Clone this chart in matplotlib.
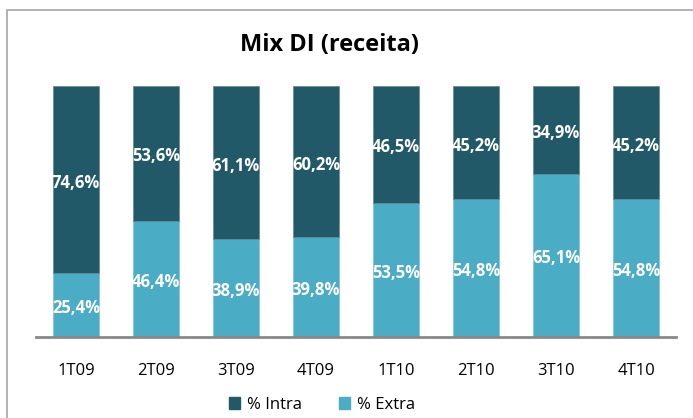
import matplotlib
matplotlib.use("Agg")
import matplotlib.pyplot as plt
from matplotlib.patches import Rectangle, Patch
from matplotlib.transforms import offset_copy

categories = ["1T09", "2T09", "3T09", "4T09", "1T10", "2T10", "3T10", "4T10"]
extra = [25.4, 46.4, 38.9, 39.8, 53.5, 54.8, 65.1, 54.8]
intra = [74.6, 53.6, 61.1, 60.2, 46.5, 45.2, 34.9, 45.2]
title = "Mix DI (receita)"

plt.rcParams['font.family'] = ['Open Sans', 'DejaVu Sans']

W, H = 693, 418
fig = plt.figure(figsize=(W / 100, H / 100), dpi=100)
fig.patch.set_facecolor("white")

# outer frame
fig.add_artist(Rectangle((7 / W, -0.1), 1.2, (H - 10) / H + 0.1, transform=fig.transFigure,
                         fill=False, edgecolor="#a6a6a6", linewidth=1.2))

ax = fig.add_axes([36 / W, (H - 337) / H, 640 / W, 251 / H])
dark = "#215968"
light = "#4BACC6"
x = list(range(len(categories)))
ax.bar(x, extra, width=0.575, color=light, edgecolor="#7fc3d6", linewidth=0.5)
ax.bar(x, intra, width=0.575, bottom=extra, color=dark, edgecolor="#5d8a96", linewidth=0.5)

lbl_tr = offset_copy(ax.transData, fig=fig, x=0, y=-3, units="dots")
for i in x:
    ax.text(i, extra[i] / 2, f"{extra[i]:.1f}%".replace(".", ","), ha="center", va="center",
            color="white", fontsize=12, fontweight="bold", transform=lbl_tr)
    ax.text(i, extra[i] + intra[i] / 2, f"{intra[i]:.1f}%".replace(".", ","), ha="center",
            va="center", color="white", fontsize=12, fontweight="bold", transform=lbl_tr)

ax.set_xlim(-0.5, 7.5)
ax.set_ylim(0, 100)
ax.set_xticks(x)
ax.set_xticklabels(categories, fontsize=12)
ax.tick_params(axis="x", length=0, pad=19)
ax.set_yticks([])
for s in ["top", "right", "left"]:
    ax.spines[s].set_visible(False)
ax.spines["bottom"].set_color("#898989")
ax.spines["bottom"].set_linewidth(2)

fig.text(330 / W, 1 - 45 / H, title, ha="center", va="center", fontsize=17, fontweight="bold")

handles = [Patch(color=dark, label="% Intra"), Patch(color=light, label="% Extra")]
fig.legend(handles=handles, loc="center", bbox_to_anchor=(322 / W, 1 - 405 / H), ncol=2,
           frameon=False, fontsize=12, handlelength=0.7, handleheight=0.7,
           handletextpad=0.4, columnspacing=2.2)

fig.savefig("out.png", dpi=100)
